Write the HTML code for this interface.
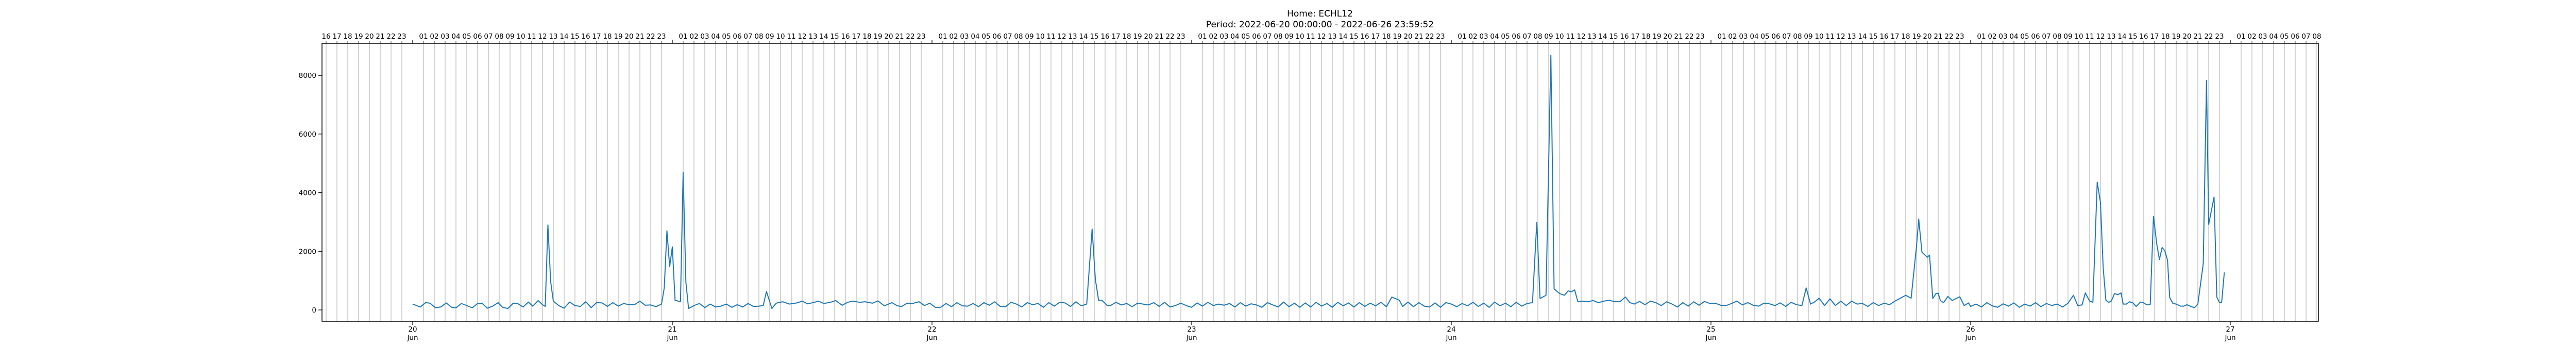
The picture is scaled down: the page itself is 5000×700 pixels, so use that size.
<!DOCTYPE html>
<html><head><meta charset="utf-8"><title>Home: ECHL12</title>
<style>
html,body{margin:0;padding:0;background:#fff;}
svg{display:block;font-family:"DejaVu Sans","Liberation Sans",sans-serif;}
</style></head>
<body>
<svg id="chart" width="5000" height="700" viewBox="0 0 5000 700" xmlns="http://www.w3.org/2000/svg">
<rect width="5000" height="700" fill="#fff"/>
<text x="2562" y="32" text-anchor="middle" font-size="17" fill="#000">Home: ECHL12</text>
<text x="2562" y="53" text-anchor="middle" font-size="17" fill="#000">Period: 2022-06-20 00:00:00 - 2022-06-26 23:59:52</text>
<g id="grid"></g>
<g id="topaxis"></g>
<g id="bottomaxis"></g>
<g id="yaxis"></g>
<g id="series"></g>
<rect x="625" y="84" width="3875" height="539" fill="none" stroke="#000" stroke-width="1.5"/>
</svg>
<script>
// hours since 2022-06-20 00:00
const times = [0,0.7,1.2,1.6,2.1,2.6,3.1,3.6,4.0,4.5,5.0,5.5,6.0,6.4,6.9,7.4,7.9,8.3,8.8,9.3,9.7,10.2,10.7,11.1,11.6,12.0,12.25,12.5,12.75,13.0,13.5,14.0,14.5,15.0,15.5,16.0,16.5,17.0,17.5,18.0,18.5,19.0,19.5,20.0,20.5,21.0,21.5,22.0,22.5,23.0,23.25,23.5,23.75,24.0,24.25,24.75,25.0,25.25,25.5,26.0,26.5,27.0,27.5,28.0,28.5,29.0,29.5,30.0,30.5,31.0,31.5,32.0,32.4,32.7,33.2,33.6,34.2,34.8,35.5,36.0,36.5,37.0,37.5,38.0,38.6,39.1,39.7,40.2,40.7,41.3,41.8,42.5,43.0,43.6,44.3,44.8,45.2,45.7,46.2,46.8,47.3,47.8,48.3,48.8,49.3,49.8,50.3,50.8,51.3,51.8,52.3,52.8,53.3,53.8,54.3,54.8,55.3,55.8,56.3,56.8,57.3,57.8,58.3,58.8,59.3,59.8,60.3,60.8,61.3,61.8,62.3,62.8,63.1,63.4,63.7,64.2,64.5,65.0,65.5,66.0,66.5,67.0,67.5,68.0,68.5,69.0,69.5,70.0,70.5,71.0,71.5,72.0,72.5,73.0,73.5,74.0,74.5,75.0,75.5,76.0,76.5,77.0,77.5,78.0,78.5,79.0,79.5,80.0,80.5,81.0,81.5,82.0,82.5,83.0,83.5,84.0,84.5,85.0,85.5,86.0,86.5,87.0,87.5,88.0,88.5,89.0,89.5,90.0,90.5,91.2,91.5,92.0,92.5,93.0,93.5,94.0,94.5,95.0,95.5,96.0,96.5,97.0,97.5,98.0,98.5,99.0,99.5,100.0,100.5,101.0,101.5,102.0,102.5,103.0,103.5,103.9,104.2,104.75,105.2,105.5,106.0,106.45,106.8,107.1,107.4,107.7,108.1,108.6,109.1,109.6,110.1,110.6,111.1,111.6,112.1,112.5,112.9,113.4,113.9,114.4,114.9,115.4,115.9,116.4,116.9,117.4,117.9,118.4,118.9,119.4,119.9,120.4,120.9,121.4,121.9,122.4,122.9,123.4,123.9,124.4,124.9,125.4,125.9,126.4,126.9,127.4,127.9,128.4,128.8,129.2,129.6,130.0,130.5,131.0,131.5,132.0,132.5,133.0,133.5,134.0,134.5,135.0,135.5,136.0,136.5,137.0,137.5,138.0,138.5,139.0,139.2,139.5,139.7,140.0,140.2,140.5,140.8,141.0,141.2,141.5,141.9,142.3,142.7,143.0,143.4,143.8,144.0,144.5,145.0,145.5,146.0,146.5,147.0,147.5,148.0,148.5,149.0,149.5,150.0,150.5,151.0,151.5,152.0,152.5,153.0,153.5,153.9,154.3,154.6,155.0,155.3,155.7,156.0,156.25,156.5,156.75,157.0,157.3,157.6,157.9,158.1,158.4,158.7,159.0,159.3,159.7,160.0,160.3,160.6,160.9,161.2,161.45,161.7,161.95,162.2,162.4,162.7,163.0,163.4,163.7,164.0,164.4,164.7,165.0,165.5,165.8,166.0,166.5,166.75,167.0,167.2,167.45,167.7];
const values = [200,100,250,230,80,100,240,90,70,220,150,70,220,230,60,130,250,90,50,230,220,100,270,130,320,180,120,2900,970,300,150,60,270,150,120,280,80,250,240,120,250,130,220,180,180,300,160,170,110,200,750,2700,1480,2150,330,280,4700,950,50,150,220,80,200,100,130,200,90,180,100,220,120,130,150,630,50,230,280,200,240,300,210,250,300,220,260,320,160,260,300,260,280,230,310,140,250,140,120,230,220,280,150,230,90,90,220,110,250,140,130,220,110,250,160,280,120,110,260,200,100,250,180,220,90,250,130,260,240,120,280,140,200,2760,1040,330,330,150,150,260,170,220,110,230,200,170,250,120,260,100,150,230,150,90,240,130,260,150,200,160,220,100,250,130,210,170,90,250,170,100,270,110,230,90,240,100,260,130,220,90,260,140,240,100,250,120,230,140,260,110,440,330,120,270,110,250,130,100,240,90,250,200,110,220,140,260,120,230,90,270,140,230,110,260,130,220,250,2990,390,500,8690,720,560,500,650,620,680,280,300,280,320,250,300,330,280,290,440,250,200,290,180,300,250,150,280,200,100,250,130,280,160,290,220,230,160,150,220,300,170,250,160,130,230,210,150,240,120,260,180,150,750,200,280,400,150,380,150,300,150,300,200,220,120,250,150,230,180,300,400,500,400,2190,3100,1970,1900,1800,1870,390,560,570,320,250,460,320,400,450,150,240,120,200,100,250,140,90,210,130,240,90,200,130,250,110,220,150,200,100,230,500,150,170,580,300,260,4360,3660,1430,330,260,300,560,520,580,200,200,280,240,120,270,240,170,190,3190,2250,1720,2130,2020,1690,420,220,200,130,130,180,110,80,200,1580,7830,2920,3850,440,250,260,1280];
const yTicks = [0,2000,4000,6000,8000];
const yTickLabels = ["0","2000","4000","6000","8000"];
const dayLabels = ["20","21","22","23","24","25","26","27"];
const monthLabel = "Jun";
const hourStart = -8, hourEnd = 176;

const NS = "http://www.w3.org/2000/svg";
const X0 = 801, HOUR = 21, Y0 = 601, YPER = 113.7/2000;
function xScale(h){ return X0 + h*HOUR; }
function yScale(v){ return Y0 - v*YPER; }
function mk(tag, attrs, parent){ const e=document.createElementNS(NS,tag); for(const k in attrs) e.setAttribute(k,attrs[k]); parent.appendChild(e); return e; }

const grid=document.getElementById('grid'), top_=document.getElementById('topaxis'), bot=document.getElementById('bottomaxis'), yax=document.getElementById('yaxis'), series=document.getElementById('series');

for(let h=hourStart; h<=hourEnd; h++){
  const x=xScale(h);
  const hr=((h%24)+24)%24;
  if(hr===0){
    const t=mk('line',{x1:x,x2:x,y1:77,y2:84,stroke:'#000','stroke-width':1.2},top_);
    
    
    continue;
  }
  const g=mk('line',{x1:x,x2:x,y1:84,y2:623,stroke:'#b0b0b0','stroke-width':1.1},grid);
  
  
  const tk=mk('line',{x1:x,x2:x,y1:80,y2:84,stroke:'#000','stroke-width':0.8},top_);
  
  
  const lb=mk('text',{x:x,y:75,'text-anchor':'middle','font-size':13.5,fill:'#000'},top_);
  lb.textContent=String(hr).padStart(2,'0');
  
  
}

dayLabels.forEach((d,i)=>{
  const x=xScale(i*24);
  const t=mk('line',{x1:x,x2:x,y1:623,y2:630,stroke:'#000','stroke-width':1.2},bot);
  
  
  const l1=mk('text',{x:x,y:643,'text-anchor':'middle','font-size':13.5,fill:'#000'},bot);
  l1.textContent=d;
  
  
  const l2=mk('text',{x:x,y:659,'text-anchor':'middle','font-size':13.5,fill:'#000'},bot);
  l2.textContent=monthLabel;
  
  
});

yTicks.forEach((v,i)=>{
  const y=yScale(v);
  const t=mk('line',{x1:618,x2:625,y1:y,y2:y,stroke:'#000','stroke-width':1.2},yax);
  
  
  const l=mk('text',{x:614,y:y+5,'text-anchor':'end','font-size':13.5,fill:'#000'},yax);
  l.textContent=yTickLabels[i];
  
  
});

const n=Math.min(times.length, values.length);
const pts=times.slice(0,n).map((t,i)=>xScale(t).toFixed(1)+','+yScale(values[i]).toFixed(1)).join(' ');
const line=mk('polyline',{points:pts,fill:'none',stroke:'#1f77b4','stroke-width':2,'stroke-linejoin':'round'},series);


</script>
</body></html>
